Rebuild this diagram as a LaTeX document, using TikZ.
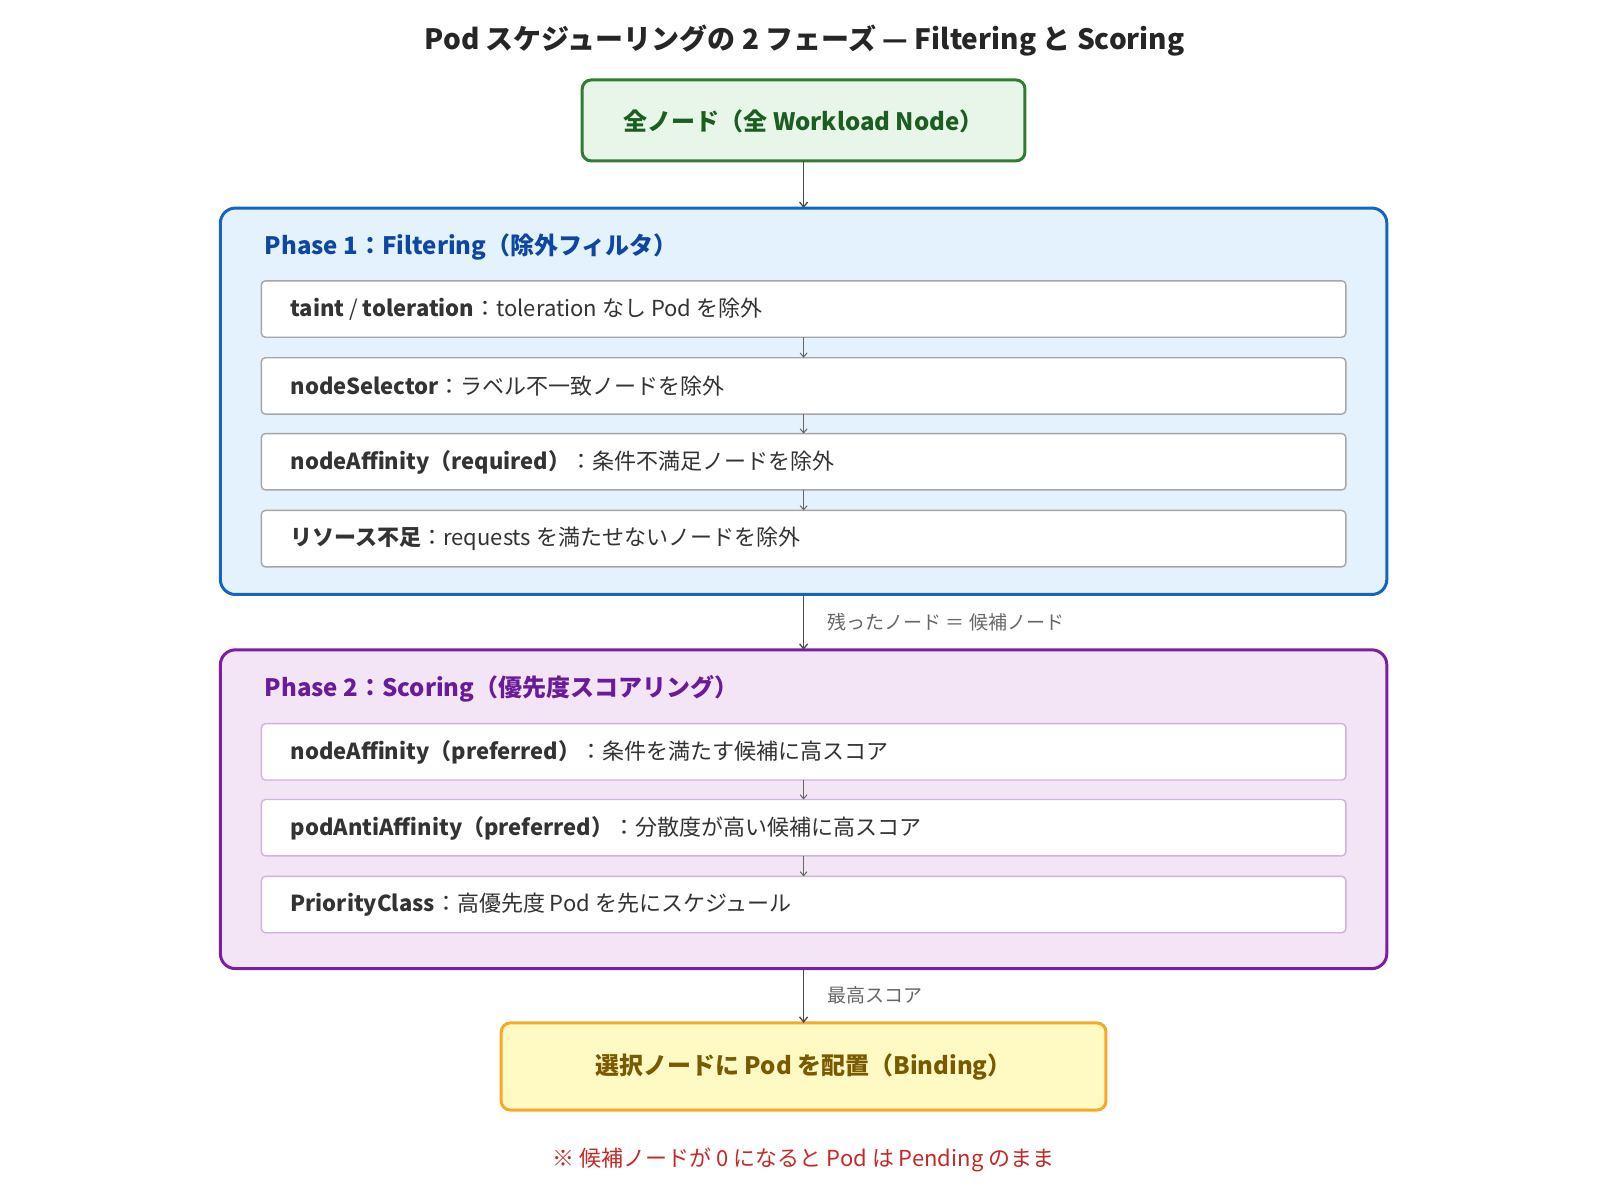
\documentclass[tikz,border=0pt]{standalone}
\usepackage{fontspec}
\setmainfont{Noto Sans CJK JP}
\usetikzlibrary{arrows.meta}
\definecolor{gfill}{HTML}{E8F5E9}\definecolor{gdraw}{HTML}{2E7D32}\definecolor{gtext}{HTML}{1B5E20}
\definecolor{bfill}{HTML}{E3F2FD}\definecolor{bdraw}{HTML}{1565C0}\definecolor{btext}{HTML}{0D47A1}
\definecolor{pfill}{HTML}{F3E5F5}\definecolor{pdraw}{HTML}{7B1FA2}\definecolor{ptext}{HTML}{6A1B9A}
\definecolor{yfill}{HTML}{FFF9C4}\definecolor{ydraw}{HTML}{F9A825}\definecolor{ytext}{HTML}{7A5A00}
\definecolor{rtext}{HTML}{C62828}
\begin{document}
\begin{tikzpicture}[x=1.025pt,y=-1.025pt,
  line/.style={draw=black!70,line width=1.3pt,-{Straight Barb[length=5pt,width=8pt]}},
  sline/.style={draw=black!60,line width=1pt,-{Straight Barb[length=4pt,width=7pt]}},
  inner/.style={draw=black!35,fill=white,line width=1.4pt,rounded corners=4pt},
  itxt/.style={anchor=west,text=black!80,font=\fontsize{22}{26}\selectfont},
  lbl/.style={anchor=west,text=black!60,font=\fontsize{19}{23}\selectfont}]
\useasboundingbox (0,0) rectangle (1561,1171);
\node[font=\fontsize{28}{33}\selectfont\bfseries,text=black!85] (title) at (785,40) {Pod スケジューリングの 2 フェーズ — Filtering と Scoring};
% top
\draw[draw=gdraw,fill=gfill,line width=3pt,rounded corners=9pt] (568,78) rectangle (1000,157);
\node[font=\fontsize{24}{29}\selectfont\bfseries,text=gtext] (top) at (784,118) {全ノード（全 Workload Node）};
\coordinate (topb) at (784,157);
% phase 1
\draw[draw=bdraw,fill=bfill,line width=3pt,rounded corners=15pt] (215,203) rectangle (1353,580);
\coordinate (p1t) at (784,203); \coordinate (p1b) at (784,580);
\node[anchor=west,font=\fontsize{24}{29}\selectfont\bfseries,text=btext] (p1) at (255,241) {Phase 1：Filtering（除外フィルタ）};
\foreach \n/\y in {a/274,b/349,c/423,d/498}{
  \draw[inner] (255,\y) rectangle (1313,\y+55);
  \coordinate (\n t) at (784,\y); \coordinate (\n b) at (784,\y+55);}
\node[itxt] (ta) at (280,302) {\textbf{taint} / \textbf{toleration}：toleration なし Pod を除外};
\node[itxt] (tb) at (280,377) {\textbf{nodeSelector}：ラベル不一致ノードを除外};
\node[itxt] (tc) at (280,451) {\textbf{nodeAffinity（required）}：条件不満足ノードを除外};
\node[itxt] (td) at (280,526) {\textbf{リソース不足}：requests を満たせないノードを除外};
\draw[sline] (ab) -- (bt); \draw[sline] (bb) -- (ct); \draw[sline] (cb) -- (dt);
\draw[line] (topb) -- (p1t);
% phase 2
\draw[draw=pdraw,fill=pfill,line width=3pt,rounded corners=15pt] (215,634) rectangle (1353,945);
\coordinate (p2t) at (784,634); \coordinate (p2b) at (784,945);
\node[anchor=west,font=\fontsize{24}{29}\selectfont\bfseries,text=ptext] (p2) at (255,672) {Phase 2：Scoring（優先度スコアリング）};
\foreach \n/\y in {e/706,f/780,g/855}{
  \draw[draw=pdraw!35,fill=white,line width=1.4pt,rounded corners=4pt] (255,\y) rectangle (1313,\y+55);
  \coordinate (\n t) at (784,\y); \coordinate (\n b) at (784,\y+55);}
\node[itxt] (te) at (280,734) {\textbf{nodeAffinity（preferred）}：条件を満たす候補に高スコア};
\node[itxt] (tf) at (280,808) {\textbf{podAntiAffinity（preferred）}：分散度が高い候補に高スコア};
\node[itxt] (tg) at (280,883) {\textbf{PriorityClass}：高優先度 Pod を先にスケジュール};
\draw[sline] (eb) -- (ft); \draw[sline] (fb) -- (gt);
\draw[line] (p1b) -- (p2t);
\node[lbl] (l1) at (804,607) {残ったノード ＝ 候補ノード};
% bottom
\draw[draw=ydraw,fill=yfill,line width=3pt,rounded corners=9pt] (489,998) rectangle (1079,1083);
\coordinate (bt2) at (784,998);
\node[font=\fontsize{24}{29}\selectfont\bfseries,text=ytext] (bot) at (784,1041) {選択ノードに Pod を配置（Binding）};
\draw[line] (p2b) -- (bt2);
\node[lbl] (l2) at (804,971) {最高スコア};
\node[font=\fontsize{22}{26}\selectfont,text=rtext] (note) at (784,1132) {※ 候補ノードが 0 になると Pod は Pending のまま};
\end{tikzpicture}
\end{document}
